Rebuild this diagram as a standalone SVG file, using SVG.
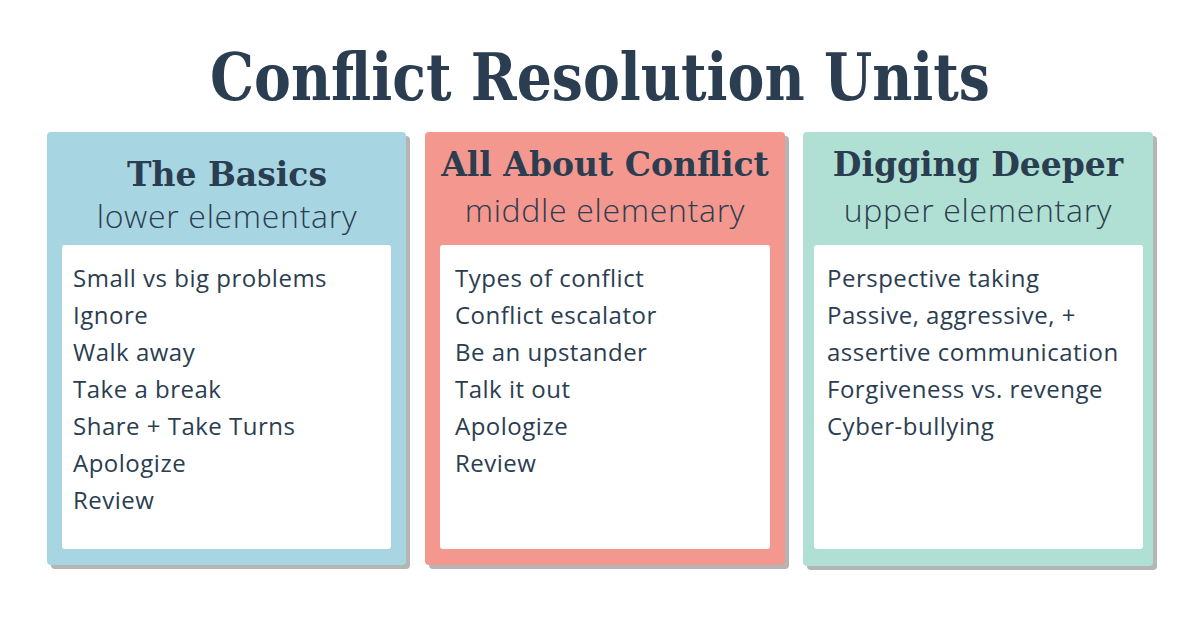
<svg xmlns="http://www.w3.org/2000/svg" width="1200" height="630" viewBox="0 0 1200 630">
<style>
.title{font-family:"DejaVu Serif","Liberation Serif",serif;font-weight:bold;fill:#2B3D50;text-anchor:middle}
.head{font-family:"DejaVu Serif","Liberation Serif",serif;font-weight:bold;fill:#2B3D50;text-anchor:middle;font-size:33px}
.sub{font-family:"Open Sans","Noto Sans",sans-serif;font-weight:300;fill:#2B3D50;text-anchor:middle;font-size:32px;letter-spacing:0.7px}
.item{font-family:"Open Sans","Noto Sans",sans-serif;font-weight:400;fill:#2B3D50;font-size:24px;letter-spacing:0.5px}
.shadow{fill:#B5B5B5}
.inner{fill:#FFFFFF}
</style>
<rect width="1200" height="630" fill="#FFFFFF"/>
<text class="title" x="600" y="100" font-size="66" textLength="780" lengthAdjust="spacingAndGlyphs">Conflict Resolution Units</text>
<g id="basics">
<rect class="shadow" x="51" y="136" width="359" height="433" rx="4"/>
<rect x="47" y="132" width="359" height="433" rx="4" fill="#A8D5E2"/>
<rect class="inner" x="62" y="245" width="329" height="304" rx="3"/>
<text class="head" x="227" y="186">The Basics</text>
<text class="sub" x="227" y="228">lower elementary</text>
<text class="item"><tspan x="73" y="287">Small vs big problems</tspan><tspan x="73" y="324">Ignore</tspan><tspan x="73" y="361">Walk away</tspan><tspan x="73" y="398">Take a break</tspan><tspan x="73" y="435">Share + Take Turns</tspan><tspan x="73" y="472">Apologize</tspan><tspan x="73" y="509">Review</tspan></text>
</g>
<g id="conflict">
<rect class="shadow" x="429" y="136" width="360" height="433" rx="4"/>
<rect x="425" y="132" width="360" height="433" rx="4" fill="#F4978E"/>
<rect class="inner" x="440" y="245" width="330" height="304" rx="3"/>
<text class="head" x="605" y="176">All About Conflict</text>
<text class="sub" x="605" y="222">middle elementary</text>
<text class="item"><tspan x="455" y="287">Types of conflict</tspan><tspan x="455" y="324">Conflict escalator</tspan><tspan x="455" y="361">Be an upstander</tspan><tspan x="455" y="398">Talk it out</tspan><tspan x="455" y="435">Apologize</tspan><tspan x="455" y="472">Review</tspan></text>
</g>
<g id="deeper">
<rect class="shadow" x="807" y="136" width="350" height="434" rx="4"/>
<rect x="803" y="132" width="350" height="434" rx="4" fill="#B0E0D3"/>
<rect class="inner" x="814" y="245" width="329" height="304" rx="3"/>
<text class="head" x="978" y="176">Digging Deeper</text>
<text class="sub" x="978" y="222">upper elementary</text>
<text class="item"><tspan x="827" y="287">Perspective taking</tspan><tspan x="827" y="324">Passive, aggressive, +</tspan><tspan x="827" y="361">assertive communication</tspan><tspan x="827" y="398">Forgiveness vs. revenge</tspan><tspan x="827" y="435">Cyber-bullying</tspan></text>
</g>
</svg>
